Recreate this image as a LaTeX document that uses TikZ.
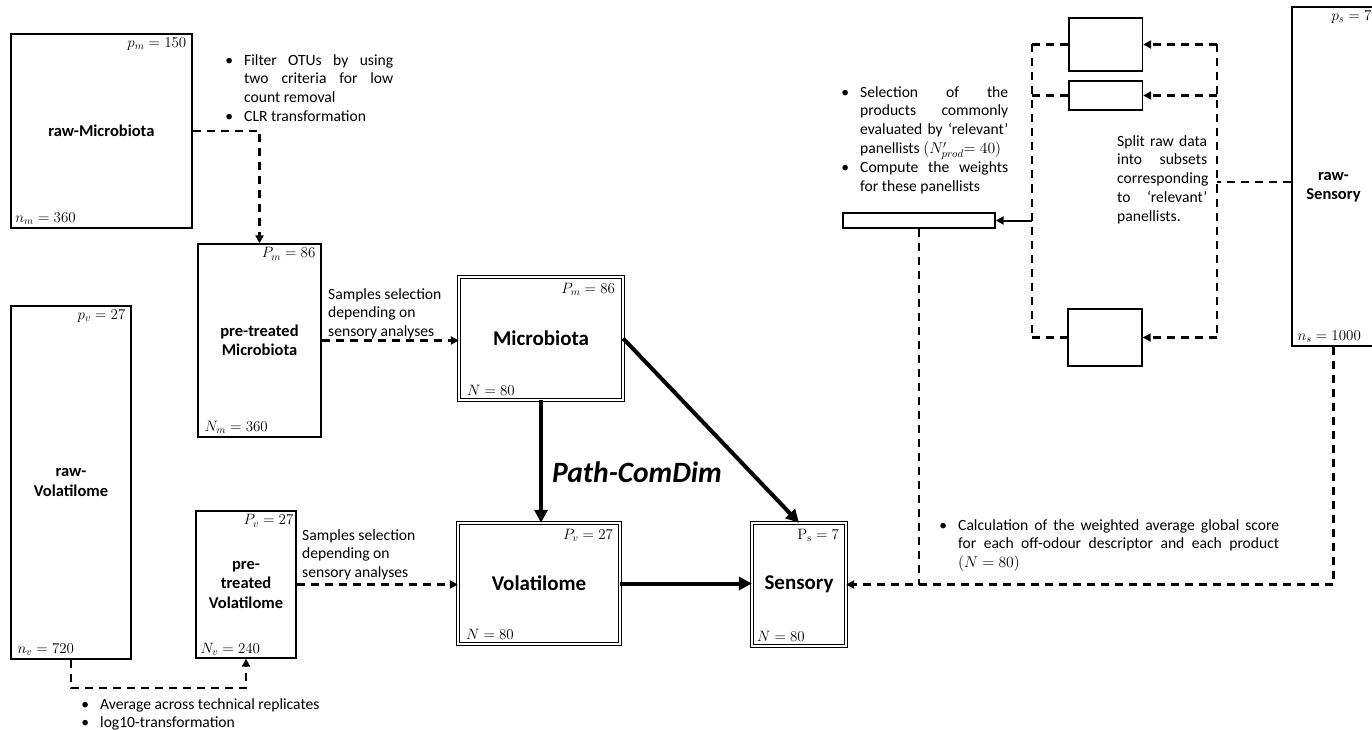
\documentclass[tikz,border=0pt]{standalone}
\usepackage{fix-cm}
\usepackage[no-math]{fontspec}
\setmainfont{Carlito}
\usetikzlibrary{arrows.meta}
\newcommand\bull{\llap{\textbullet\hspace{11pt}}}
\begin{document}
\begin{tikzpicture}[x=1pt,y=-1pt,
  box/.style={draw, line width=1.3pt, rectangle, inner sep=0pt, align=center, font=\bfseries\fontsize{16.5}{19.5}\selectfont},
  dbox/.style={draw, double, double distance=2.2pt, line width=0.9pt, rectangle, inner sep=0pt, align=center, font=\bfseries\fontsize{21}{24}\selectfont},
  corner/.style={inner sep=1pt, font=\fontsize{15}{17}\selectfont},
  txt/.style={inner sep=0pt, anchor=north west, align=left, font=\fontsize{15.6}{18.9}\selectfont},
  dashln/.style={line width=2.2pt, dash pattern=on 8pt off 6pt},
  darr/.style={dashln, -{Triangle[length=8pt,width=8pt]}},
  sarr/.style={line width=2pt, -{Triangle[length=8pt,width=8pt]}},
  thk/.style={line width=4pt, -{Triangle[length=13pt,width=13pt]}}
]
\useasboundingbox (0,0) rectangle (1372,730);

% ---------- boxes ----------
\node[box, minimum width=181pt, minimum height=194pt] (rawM) at (101.4,131) {raw-Microbiota};
\node[corner, anchor=north east] (rawMp) at ([xshift=-5pt,yshift=-3pt]rawM.north east) {$p_m = 150$};
\node[corner, anchor=south west] (rawMn) at ([xshift=4pt,yshift=3pt]rawM.south west) {$n_m = 360$};

\node[box, minimum width=123pt, minimum height=193pt] (preM) at (259.5,340.5) {pre-treated\\Microbiota};
\node[corner, anchor=north east] (preMp) at ([xshift=-5pt,yshift=-3pt]preM.north east) {$P_m = 86$};
\node[corner, anchor=south west] (preMn) at ([xshift=6pt,yshift=3pt]preM.south west) {$N_m = 360$};

\node[box, minimum width=120pt, minimum height=353pt] (rawV) at (71,482.5) {raw-\\Volatilome};
\node[corner, anchor=north east] (rawVp) at ([xshift=-5pt,yshift=-3pt]rawV.north east) {$p_v = 27$};
\node[corner, anchor=south west] (rawVn) at ([xshift=6pt,yshift=3pt]rawV.south west) {$n_v = 720$};

\node[box, minimum width=100pt, minimum height=147pt] (preV) at (246,584.5) {pre-\\treated\\Volatilome};
\node[corner, anchor=north east] (preVp) at ([xshift=-2pt,yshift=-3pt]preV.north east) {$P_v = 27$};
\node[corner, anchor=south west] (preVn) at ([xshift=4pt,yshift=2pt]preV.south west) {$N_v = 240$};

\node[dbox, minimum width=163.5pt, minimum height=122.5pt] (M) at (541,338.5) {Microbiota};
\node[corner, anchor=north east] (Mp) at ([xshift=-7pt,yshift=-5pt]M.north east) {$P_m = 86$};
\node[corner, anchor=south west] (Mn) at ([xshift=7pt,yshift=4pt]M.south west) {$N = 80$};

\node[dbox, minimum width=161.5pt, minimum height=120.5pt] (V) at (539,583.5) {Volatilome};
\node[corner, anchor=north east] (Vp) at ([xshift=-6pt,yshift=-5pt]V.north east) {$P_v = 27$};
\node[corner, anchor=south west] (Vn) at ([xshift=7pt,yshift=4pt]V.south west) {$N = 80$};

\node[dbox, minimum width=93.5pt, minimum height=122.5pt] (S) at (799,584.5) {Sensory};
\node[corner, anchor=north east] (Sp) at ([xshift=-6pt,yshift=-5pt]S.north east) {$\mathrm{P_s} = 7$};
\node[corner, anchor=south west] (Sn) at ([xshift=4pt,yshift=4pt]S.south west) {$N = 80$};

\node[box, minimum width=83pt, minimum height=339pt] (rawS) at (1333.5,176.5) {\\[10pt]raw-\\Sensory};
\node[corner, anchor=north east] (rawSp) at ([xshift=-3pt,yshift=-3pt]rawS.north east) {$p_s = 7$};
\node[corner, anchor=south west] (rawSn) at ([xshift=5pt,yshift=3pt]rawS.south west) {$n_s = 1000$};

\node[box, minimum width=73.5pt, minimum height=53pt] (sub1) at (1105.75,44.5) {};
\node[box, minimum width=73.5pt, minimum height=29pt] (sub2) at (1105.75,95.5) {};
\node[box, minimum width=74pt, minimum height=57pt] (sub3) at (1105,337.5) {};
\node[box, minimum width=152pt, minimum height=15pt] (thin) at (919,220.5) {};

\node[font=\bfseries\itshape\fontsize{29.5}{32}\selectfont, inner sep=0pt] (pcd) at (637,472) {Path-ComDim};

% ---------- texts ----------
\node[txt] (t1) at (244,54) {\bull\makebox[149pt][s]{Filter OTUs by using}\\\makebox[149pt][s]{two criteria for low}\\count removal\\\bull CLR transformation};
\node[txt] (t2) at (860,86) {\bull\makebox[148pt][s]{Selection of the}\\\makebox[148pt][s]{products commonly}\\\makebox[148pt][s]{evaluated by ‘relevant’}\\panellists $(N'_{prod}{=}\;40)$\\\bull\makebox[148pt][s]{Compute the weights}\\for these panellists};
\node[txt] (t3) at (1117,135) {\makebox[90pt][s]{Split raw data}\\\makebox[90pt][s]{into subsets}\\\makebox[90pt][s]{corresponding}\\\makebox[90pt][s]{to ‘relevant’}\\panellists.};
\node[txt] (t4) at (958,519) {\bull\makebox[321pt][s]{Calculation of the weighted average global score}\\\makebox[321pt][s]{for each off-odour descriptor and each product}\\$(N = 80)$};
\node[txt] (t5) at (328,288) {Samples selection\\depending on\\sensory analyses};
\node[txt] (t6) at (302,529) {Samples selection\\depending on\\sensory analyses};
\node[txt] (t7) at (100,698) {\bull Average across technical replicates\\\bull log10-transformation};

% ---------- connectors ----------
\draw[darr] (rawM.east) -| (preM.north);
\draw[darr] (preM.east) -- (preM.east -| M.west);
\draw[darr] (preV.east) -- (preV.east -| V.west);
\draw[darr] (rawV.south) -- ++(0,28) -| (preV.south);

\draw[thk] (M.south) -- (M.south |- V.north);
\draw[thk] (M.east) -- (S.north);
\draw[thk] (V.east) -- (V.east -| S.west);

\coordinate (lx) at (1032,0);
\coordinate (rx) at (1217,0);
\draw[dashln] (sub1.west -| lx) -- (sub3.west -| lx);
\draw[dashln] (sub1.west -| lx) -- (sub1.west);
\draw[dashln] (sub2.west -| lx) -- (sub2.west);
\draw[dashln] (sub3.west -| lx) -- (sub3.west);
\draw[dashln] (sub1.east -| rx) -- (sub3.east -| rx);
\draw[darr] (sub1.east -| rx) -- (sub1.east);
\draw[darr] (sub2.east -| rx) -- (sub2.east);
\draw[darr] (sub3.east -| rx) -- (sub3.east);
\coordinate (rsw) at ([yshift=-5.5pt]rawS.west);
\draw[dashln] (rsw) -- (rsw -| rx);
\draw[sarr] (thin.east -| lx) -- (thin.east);

\draw[darr] (rawS.south) |- (S.east);
\draw[dashln] (thin.south) -- (thin.south |- S.east);
\end{tikzpicture}
\end{document}
